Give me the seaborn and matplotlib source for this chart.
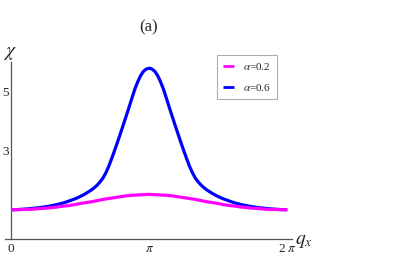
import numpy as np
import pandas as pd
import matplotlib
matplotlib.use("Agg")
import matplotlib.pyplot as plt
import seaborn as sns

# alpha=0.6: q = k*pi/48, k=0..48 (read), mirrored to 2*pi
chi_06_half = [1.00, 1.002, 1.005, 1.009, 1.015, 1.022, 1.03, 1.04, 1.05, 1.06,
               1.07, 1.085, 1.10, 1.115, 1.135, 1.155, 1.175, 1.20, 1.225, 1.255,
               1.29, 1.325, 1.36, 1.40, 1.445, 1.495, 1.55, 1.61, 1.675, 1.75,
               1.84, 1.95, 2.08, 2.26, 2.48, 2.74, 3.01, 3.29, 3.58, 3.87,
               4.17, 4.47, 4.78, 5.08, 5.33, 5.54, 5.69, 5.77, 5.80]
# alpha=0.2: q = k*pi/24, k=0..24 (read), mirrored to 2*pi
chi_02_half = [1.00, 1.00, 1.01, 1.01, 1.02, 1.04, 1.05, 1.07, 1.09, 1.12,
               1.14, 1.17, 1.21, 1.24, 1.27, 1.31, 1.35, 1.38, 1.41, 1.44,
               1.47, 1.49, 1.50, 1.51, 1.52]
chi_06 = chi_06_half + chi_06_half[-2::-1]
chi_02 = chi_02_half + chi_02_half[-2::-1]
labels = [r"$\alpha$=0.2", r"$\alpha$=0.6"]
colors = ["#FF00FF", "#0000FF"]
xtick_labels = ["0", r"$\pi$", r"2 $\pi$"]
yticks = [3, 5]

q06 = np.arange(len(chi_06)) * np.pi / 48
q02 = np.arange(len(chi_02)) * np.pi / 24
df06 = pd.DataFrame({"q": q06, "chi": chi_06})
df02 = pd.DataFrame({"q": q02, "chi": chi_02})

sns.set_style("white")
plt.rcParams["font.family"] = ["Liberation Serif", "DejaVu Serif"]
plt.rcParams["mathtext.fontset"] = "stix"

W, H = 415, 260
fig = plt.figure(figsize=(W / 100, H / 100), dpi=100)
ax = fig.add_axes([5 / W, (H - 239.2) / H, 287 / W, (239.2 - 61.7) / H])

# blue first, magenta on top
sns.lineplot(data=df06, x="q", y="chi", color=colors[1], lw=2.3, ax=ax,
             label=labels[1], zorder=3, solid_joinstyle="round",
             solid_capstyle="butt")
sns.lineplot(data=df02, x="q", y="chi", color=colors[0], lw=2.3, ax=ax,
             label=labels[0], zorder=4, solid_joinstyle="round",
             solid_capstyle="butt")

ax.set_xlim(-0.136, 6.39)
ax.set_ylim(0, 6.02)
for s in ["top", "right"]:
    ax.spines[s].set_visible(False)
ax.spines["left"].set_position(("data", 0))
ax.spines["bottom"].set_position(("data", 0))
for s in ["left", "bottom"]:
    ax.spines[s].set_color("#555555")
    ax.spines[s].set_linewidth(0.9)

ax.set_xticks([0, np.pi, 2 * np.pi])
ax.set_xticklabels(xtick_labels)
ax.set_yticks(yticks)
ax.set_yticklabels([str(v) for v in yticks])
ax.tick_params(axis="both", direction="in", length=2, width=0.6, color="#777777",
               labelsize=9.5)
ax.tick_params(axis="y", pad=1.5)
ax.tick_params(axis="x", pad=2.5)
ax.set_xlabel("")
ax.set_ylabel("")

h, l = ax.get_legend_handles_labels()
order = [l.index(labels[0]), l.index(labels[1])]
leg = ax.legend([h[i] for i in order], [l[i] for i in order],
                loc="upper left",
                bbox_to_anchor=((217 - 5) / 287, (239.2 - 55) / (239.2 - 61.7)),
                frameon=True, fancybox=False, edgecolor="#999999", fontsize=8,
                handlelength=1.0, handletextpad=0.8, labelspacing=0.9,
                borderpad=0.55, borderaxespad=0)
leg.get_frame().set_linewidth(0.8)
for line in leg.get_lines():
    line.set_linewidth(2)

fig.text(10 / W, 1 - 54 / H, r"$\chi$", fontsize=14, ha="center", va="center")
fig.text(304 / W, 1 - 241 / H, r"$q_x$", fontsize=14, ha="center", va="center")
fig.text(149 / W, 1 - 27.5 / H, "(a)", fontsize=12, ha="center", va="center")

fig.savefig("out.png", dpi=100)
